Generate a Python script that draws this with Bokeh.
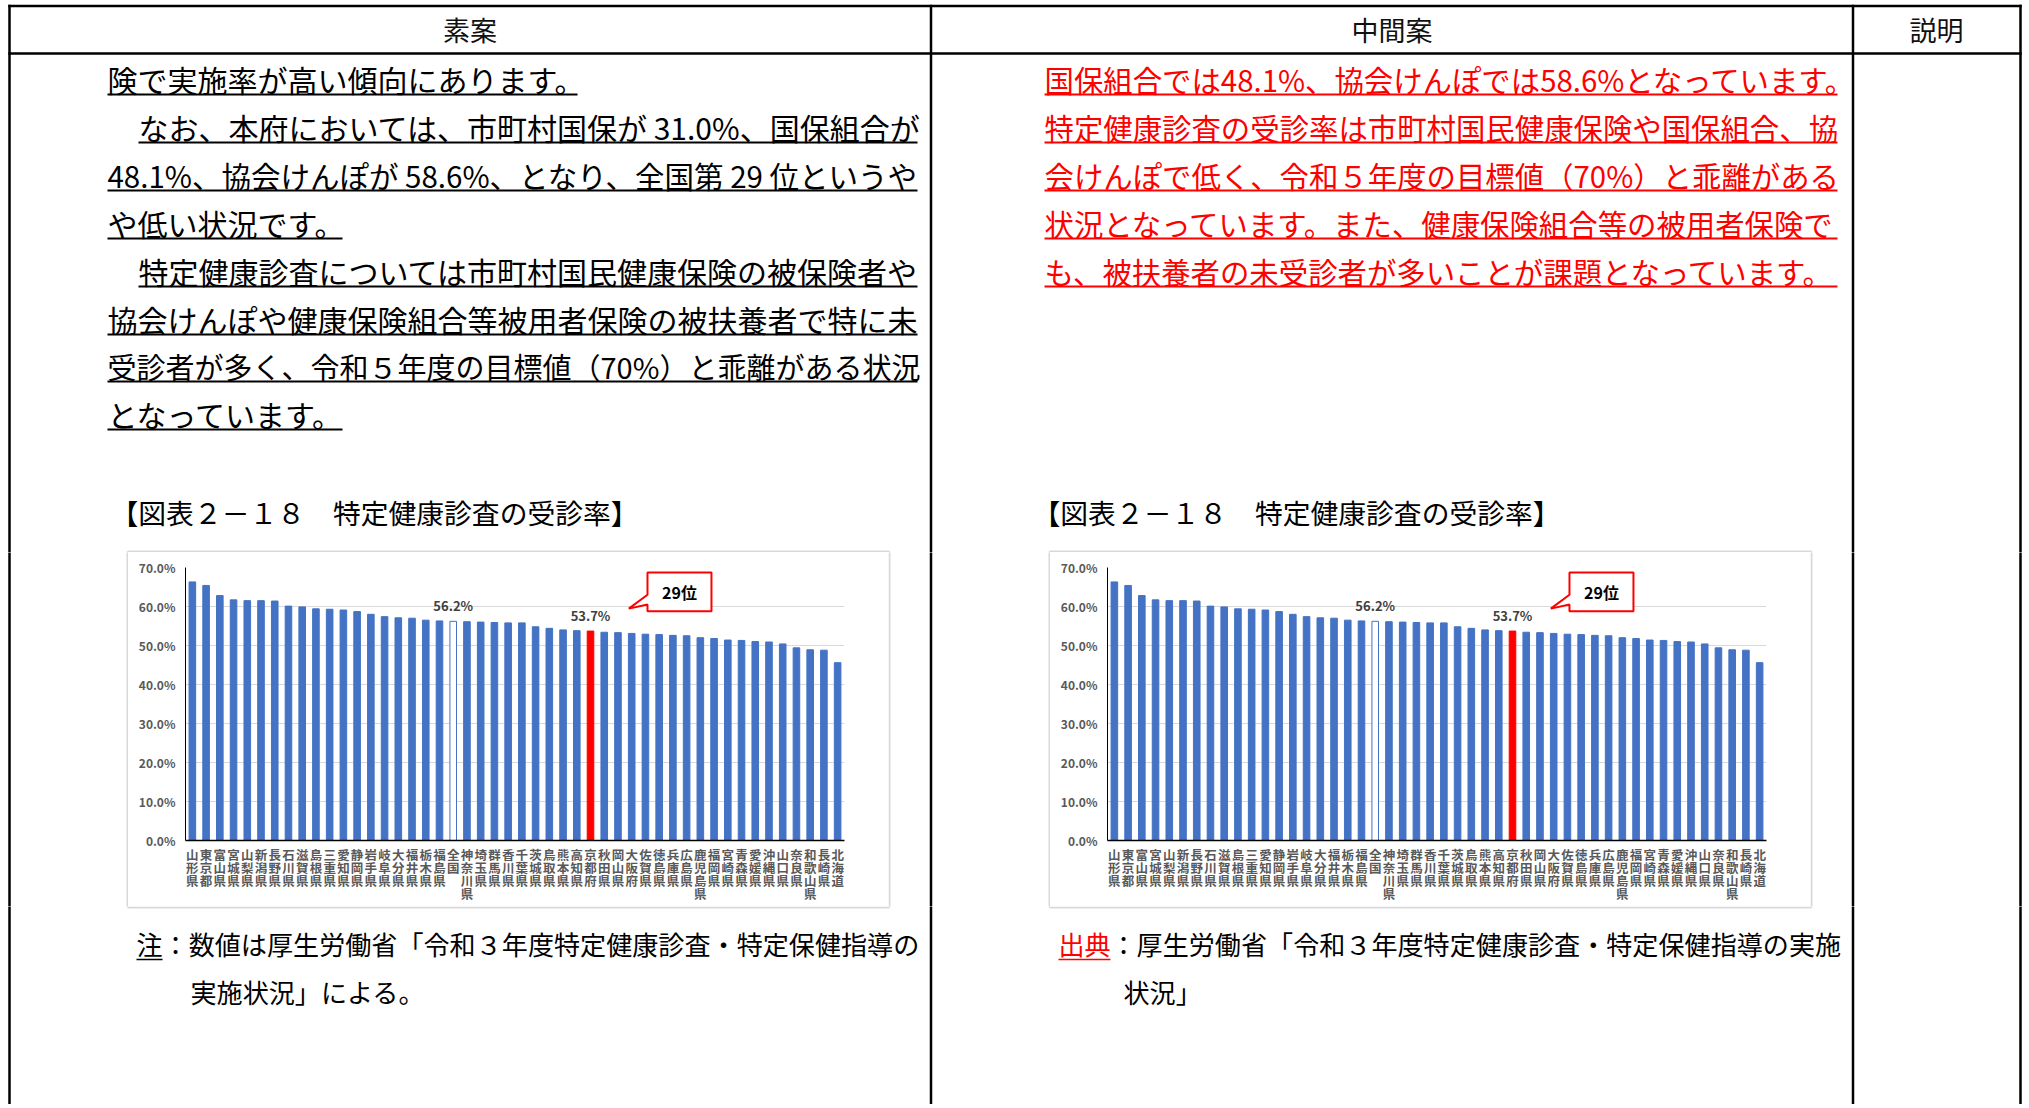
from bokeh.plotting import figure
from bokeh.models import Range1d, FactorRange, ColumnDataSource, FixedTicker, PrintfTickFormatter
from bokeh.layouts import column, row
from bokeh.embed import file_html
from bokeh.resources import INLINE
from bokeh.core.properties import value

# ---------------- data ----------------
prefectures = ["山形県", "東京都", "富山県", "宮城県", "山梨県", "新潟県", "長野県", "石川県",
               "滋賀県", "島根県", "三重県", "愛知県", "静岡県", "岩手県", "岐阜県", "大分県",
               "福井県", "栃木県", "福島県", "全国", "神奈川県", "埼玉県", "群馬県", "香川県",
               "千葉県", "茨城県", "鳥取県", "熊本県", "高知県", "京都府", "秋田県", "岡山県",
               "大阪府", "佐賀県", "徳島県", "兵庫県", "広島県", "鹿児島県", "福岡県", "宮崎県",
               "青森県", "愛媛県", "沖縄県", "山口県", "奈良県", "和歌山県", "長崎県", "北海道"]
rates = [66.3, 65.4, 62.8, 61.7, 61.5, 61.5, 61.4, 60.1,
         59.9, 59.4, 59.3, 59.1, 58.7, 58.0, 57.4, 57.1,
         57.0, 56.5, 56.3, 56.2, 56.1, 56.0, 55.9, 55.8,
         55.8, 54.8, 54.4, 54.0, 53.8, 53.7, 53.4, 53.3,
         53.1, 52.9, 52.8, 52.6, 52.5, 52.0, 51.8, 51.4,
         51.3, 51.0, 50.9, 50.4, 49.4, 48.9, 48.8, 45.6]
national_name = "全国"
home_name = "京都府"
home_rank_text = "29位"
y_ticks = [0, 10, 20, 30, 40, 50, 60, 70]

header_titles = ["素案", "中間案", "説明"]
left_lines = ["険で実施率が高い傾向にあります。",
              "なお、本府においては、市町村国保が 31.0%、国保組合が",
              "48.1%、協会けんぽが 58.6%、となり、全国第 29 位というや",
              "や低い状況です。",
              "特定健康診査については市町村国民健康保険の被保険者や",
              "協会けんぽや健康保険組合等被用者保険の被扶養者で特に未",
              "受診者が多く、令和５年度の目標値（70%）と乖離がある状況",
              "となっています。"]
mid_lines = ["国保組合では48.1%、協会けんぽでは58.6%となっています。",
             "特定健康診査の受診率は市町村国民健康保険や国保組合、協",
             "会けんぽで低く、令和５年度の目標値（70%）と乖離がある",
             "状況となっています。また、健康保険組合等の被用者保険で",
             "も、被扶養者の未受診者が多いことが課題となっています。"]
caption = "【図表２－１８　特定健康診査の受診率】"
left_note = ["注：数値は厚生労働省「令和３年度特定健康診査・特定保健指導の", "実施状況」による。"]
right_note_head = "出典"
right_note = ["：厚生労働省「令和３年度特定健康診査・特定保健指導の実施", "状況」"]

# ---------------- layout (page pixel coordinates) ----------------
FONT = "Noto Sans CJK JP"
W = 2024
TOP_H, MID_H, BOT_H = 552, 354, 198
MID_Y0 = TOP_H
BOT_Y0 = MID_Y0 + MID_H
TABLE_VX = [9, 930.5, 1852.5, 2020]
TABLE_HY = [5.5, 53]
TABLE_X0, TABLE_X1 = 7.75, 2021.25
BOXES = [(127, 889, 551, 907), (1049, 1811, 551, 907)]
PIECES_W = [128, 760, 162, 760, 214]

BLUE = "#4472C4"
RED = "#FF0000"


def no_align(f):
    try:
        f.frame_align = False
    except Exception:
        pass


def doc_piece(ox, oy, w, h):
    f = figure(width=w, height=h, x_range=Range1d(0, w), y_range=Range1d(h, 0),
               x_axis_type=None, y_axis_type=None, output_backend="svg",
               toolbar_location=None, min_border=0)
    no_align(f)
    f.outline_line_color = None
    f.border_fill_color = "white"
    f.background_fill_color = "white"
    x0, y0, x1, y1 = [], [], [], []
    for x in TABLE_VX:
        x0.append(x - ox); x1.append(x - ox); y0.append(max(4.25 - oy, -5)); y1.append(h + 5)
    for y in TABLE_HY:
        x0.append(TABLE_X0 - ox); x1.append(TABLE_X1 - ox); y0.append(y - oy); y1.append(y - oy)
    f.segment(x0=x0, y0=y0, x1=x1, y1=y1, line_color="black", line_width=2.5)
    bx0, by0, bx1, by1 = [], [], [], []
    for (l, r, t, b) in BOXES:
        for seg in [(l, t, r, t), (l, b, r, b), (l, t, l, b), (r, t, r, b)]:
            bx0.append(seg[0] - ox); by0.append(seg[1] - oy)
            bx1.append(seg[2] - ox); by1.append(seg[3] - oy)
    f.segment(x0=bx0, y0=by0, x1=bx1, y1=by1, line_color="#D9D9D9", line_width=2)
    return f


def put_text(f, ox, oy, xs, ys, texts, size, color="black", align="left"):
    f.text(x=[x - ox for x in xs], y=[y - oy for y in ys], text=texts,
           text_font=value(FONT), text_font_size=size, text_color=color,
           text_align=align, text_baseline="middle")


def underline(f, ox, oy, spans, color="black", width=2):
    f.segment(x0=[s[0] - ox for s in spans], x1=[s[1] - ox for s in spans],
              y0=[s[2] - oy for s in spans], y1=[s[2] - oy for s in spans],
              line_color=color, line_width=width)


# ---------- top part ----------
top = doc_piece(0, 0, W, TOP_H)
put_text(top, 0, 0, [469.5, 1391.5, 1936], [29, 29, 29], header_titles, "27px", "#111111", "center")

left_ul_y = [94, 142, 190, 238, 286, 334, 381, 429]
left_x = [107, 138, 107, 107, 138, 107, 107, 107]
left_ul_end = [577, 917, 917, 342, 917, 917, 917, 342]
left_sizes = ["30px", "30px", "29.5px", "30px", "30px", "30px", "29px", "30px"]
for i, line in enumerate(left_lines):
    put_text(top, 0, 0, [left_x[i]], [left_ul_y[i] - 16], [line], left_sizes[i], "black")
underline(top, 0, 0, [(left_x[i], left_ul_end[i], left_ul_y[i]) for i in range(len(left_lines))])

mid_ul_y = left_ul_y[:len(mid_lines)]
put_text(top, 0, 0, [1044] * len(mid_lines), [y - 16 for y in mid_ul_y], mid_lines, "29.4px", RED)
underline(top, 0, 0, [(1044, 1837, y) for y in mid_ul_y], RED)

put_text(top, 0, 0, [110, 1032], [511, 511], [caption, caption], "27.8px", "black")

# ---------- bottom part ----------
bot = doc_piece(0, BOT_Y0, W, BOT_H)
put_text(bot, 0, BOT_Y0, [136, 190], [943, 991], left_note, "26.1px", "black")
underline(bot, 0, BOT_Y0, [(136, 162, 959)], "black", 1.5)
put_text(bot, 0, BOT_Y0, [1058], [943], [right_note_head], "26.1px", RED)
put_text(bot, 0, BOT_Y0, [1110, 1123], [943, 991], right_note, "26.1px", "black")
underline(bot, 0, BOT_Y0, [(1058, 1110, 959)], RED, 1.5)


# ---------- charts ----------
def chart():
    factors = ["\n".join(n) for n in prefectures]
    fills = [("white" if n == national_name else RED if n == home_name else BLUE) for n in prefectures]
    lines = [(RED if n == home_name else BLUE) for n in prefectures]
    src = ColumnDataSource(dict(cat=factors, val=rates, fill=fills, line=lines))
    p = figure(width=760, height=354, x_range=FactorRange(factors=factors, range_padding=0),
               y_range=Range1d(0, 70), output_backend="svg", toolbar_location=None,
               min_border_left=57, min_border_right=44, min_border_top=15, min_border_bottom=65)
    no_align(p)
    p.outline_line_color = None
    p.background_fill_color = "white"
    p.border_fill_color = "white"
    p.xgrid.grid_line_color = None
    p.ygrid.grid_line_color = "#D9D9D9"
    p.ygrid.grid_line_width = 1
    p.vbar(x="cat", top="val", width=0.48, fill_color="fill", line_color="line",
           line_width=1, source=src)

    yax = p.yaxis[0]
    yax.ticker = FixedTicker(ticks=y_ticks)
    yax.formatter = PrintfTickFormatter(format="%.1f%%")
    yax.major_tick_out = 0
    yax.major_tick_in = 0
    yax.minor_tick_line_color = None
    yax.axis_line_color = "black"
    yax.axis_line_width = 1
    yax.major_label_standoff = 10
    yax.major_label_text_font = FONT
    yax.major_label_text_font_size = "12px"
    yax.major_label_text_font_style = "bold"
    yax.major_label_text_color = "#595959"

    xax = p.xaxis[0]
    xax.major_tick_line_color = None
    xax.minor_tick_line_color = None
    xax.axis_line_color = "black"
    xax.axis_line_width = 1.5
    xax.major_label_standoff = -2
    xax.major_label_text_font = FONT
    xax.major_label_text_font_size = "12.5px"
    xax.major_label_text_font_style = "bold"
    xax.major_label_text_color = "#595959"
    xax.major_label_text_line_height = 0.7
    xax.major_label_orientation = "horizontal"

    # value labels for national average and home prefecture
    lab_idx = [prefectures.index(national_name), prefectures.index(home_name)]
    p.text(x=[factors[i] for i in lab_idx], y=[rates[i] for i in lab_idx],
           text=[f"{rates[i]:.1f}%" for i in lab_idx], y_offset=-16,
           text_font=value(FONT), text_font_size="13px", text_font_style="bold",
           text_color="#404040", text_align="center", text_baseline="middle")

    # rank callout, anchored on the home prefecture bar
    hc = prefectures.index(home_name) + 0.5
    cx0, cx1 = hc + 4.15, hc + 8.81
    cy0, cy1 = 58.8, 68.7
    p.patch(x=[cx0, cx1, cx1, cx0, cx0, hc + 2.79, cx0],
            y=[cy1, cy1, cy0, cy0, 60.5, 59.45, 63.0],
            fill_color="white", line_color=RED, line_width=2)
    p.text(x=[(cx0 + cx1) / 2], y=[(cy0 + cy1) / 2], text=[home_rank_text],
           text_font=value(FONT), text_font_size="16px", text_font_style="bold",
           text_color="black", text_align="center", text_baseline="middle")
    return p


ox = 0
pieces = []
for i, w in enumerate(PIECES_W):
    if i in (1, 3):
        pieces.append(chart())
    else:
        pieces.append(doc_piece(ox, MID_Y0, w, MID_H))
    ox += w

layout = column(top, row(*pieces, spacing=0), bot, spacing=0)
open("out.html", "w").write(file_html(layout, INLINE))
